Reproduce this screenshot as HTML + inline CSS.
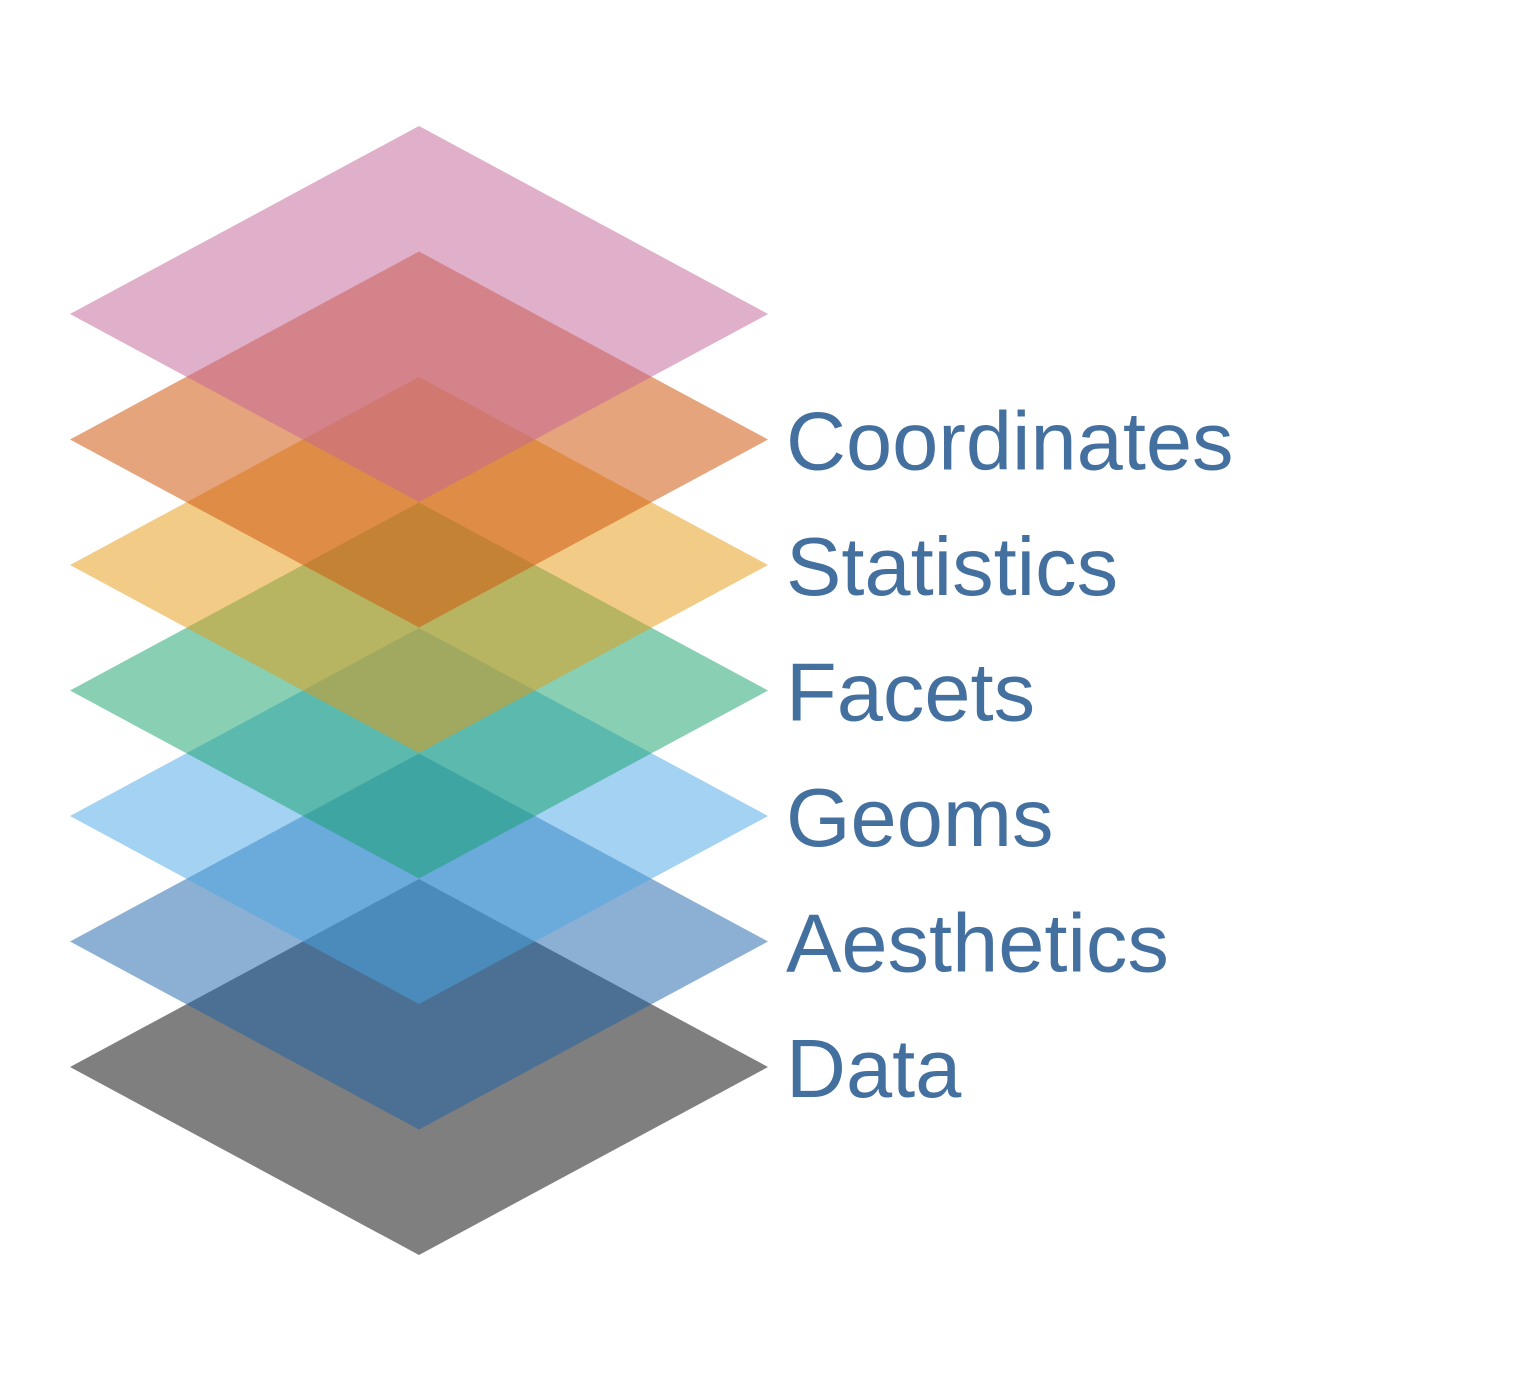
<!DOCTYPE html>
<html><head><meta charset="utf-8"><style>
html,body{margin:0;padding:0;background:#fff;}
svg{display:block;}
</style></head><body>
<svg id="chart" width="1536" height="1382" viewBox="0 0 1536 1382" xmlns="http://www.w3.org/2000/svg"></svg>
<script>
const layers = ["Data","Aesthetics","Geoms","Facets","Statistics","Coordinates","Theme"];
const showLabel = [true,true,true,true,true,true,false];
const colors = ["#000000","#1a62a8","#4aa6e6","#12a06a","#e69a10","#d05a10","#c4669a"];
const opacities = [0.5,0.5,0.5,0.5,0.5,0.55,0.52];
const levels = [0,1,2,3,4,5,6];

const svg = document.getElementById('chart');
const NS = 'http://www.w3.org/2000/svg';
const cx = 419, hw = 349, hh = 188;
function yScale(l){ return 1067 - l*125.5; }

layers.forEach((name,i)=>{
  const y = yScale(levels[i]);
  const p = document.createElementNS(NS,'polygon');
  p.setAttribute('points', `${cx-hw},${y} ${cx},${y-hh} ${cx+hw},${y} ${cx},${y+hh}`);
  p.setAttribute('fill', colors[i]);
  p.setAttribute('fill-opacity', opacities[i]);
  
  
  svg.appendChild(p);
});
layers.forEach((name,i)=>{
  if(!showLabel[i]) return;
  const y = yScale(levels[i]);
  const t = document.createElementNS(NS,'text');
  t.setAttribute('x', 786);
  t.setAttribute('y', y + 30);
  t.setAttribute('font-family', 'Liberation Sans, sans-serif');
  t.setAttribute('font-size', '83');
  t.setAttribute('fill', '#44709f');
  t.textContent = name;
  
  
  svg.appendChild(t);
});
</script>
</body></html>
